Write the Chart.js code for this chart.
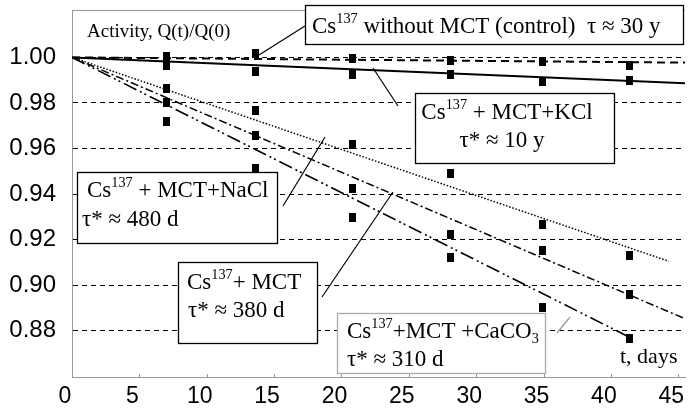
<!DOCTYPE html>
<html>
<head>
<meta charset="utf-8">
<script src="https://cdn.jsdelivr.net/npm/chart.js@4/dist/chart.umd.min.js"></script>
<style>
  html, body { margin: 0; padding: 0; background: #fff; }
  #wrap { width: 691px; height: 410px; }
</style>
</head>
<body>
<div id="wrap"><canvas id="decayChart" width="691" height="410"></canvas></div>
<script>
const days = [7.0, 13.6, 20.8, 28.1, 34.9, 41.4];

// measured Q(t)/Q(0) per sample
const control = [1.0004, 1.0017, 0.9997, 0.9988, 0.9982, 0.9964];
const kcl = [0.9966, 0.9938, 0.9924, 0.9927, 0.9896, 0.9900];
const nacl = [0.9865, 0.9769, 0.9617, 0.9490, 0.9266, 0.9132];
const mct = [0.9802, 0.9659, 0.9424, 0.9224, 0.9152, 0.8959];
const caco3 = [0.9720, 0.9514, 0.9295, 0.9123, 0.8904, 0.8768];

// fitted lines, start and end points
const controlFitX = [0, 45.5], controlFitY = [1.0, 0.9977];
const kclFitX = [0, 45.5], kclFitY = [1.0, 0.9886];
const naclFitX = [0, 44.3], naclFitY = [1.0, 0.9105];
const mctFitX = [0, 45.5], mctFitY = [1.0, 0.8853];
const caco3FitX = [0, 41.3], caco3FitY = [1.0, 0.8774];

// axis ticks
const xTicks = [0, 5, 10, 15, 20, 25, 30, 35, 40, 45];
const yTicks = [0.88, 0.90, 0.92, 0.94, 0.96, 0.98, 1.00];

const toPts = (xs, ys) => xs.map((x, i) => ({ x, y: ys[i] }));

// tall black marker like the scanned squares
const marker = document.createElement('canvas');
marker.width = 7; marker.height = 9;
const mctx = marker.getContext('2d');
mctx.fillStyle = '#000';
mctx.fillRect(0, 0, 7, 9);

const fitLine = (xs, ys, width, dash) => ({
  data: toPts(xs, ys),
  showLine: true,
  borderColor: '#000',
  borderWidth: width,
  borderDash: dash,
  pointRadius: 0,
  order: 2,
});

const samples = (ys) => ({
  data: toPts(days, ys),
  showLine: false,
  pointStyle: marker,
  pointRadius: 5,
  order: 1,
});

const SERIF = '"Liberation Serif", "Times New Roman", serif';

// draws "Cs^{137}" / "CaCO_{3}" style text
function richText(ctx, str, x, y, size, align) {
  const parts = [];
  const re = /(\^\{[^}]*\}|_\{[^}]*\})/g;
  let last = 0, m;
  while ((m = re.exec(str))) {
    if (m.index > last) parts.push({ t: str.slice(last, m.index) });
    const body = m[0].slice(2, -1);
    parts.push(m[0][0] === '^' ? { t: body, sup: true } : { t: body, sub: true });
    last = re.lastIndex;
  }
  if (last < str.length) parts.push({ t: str.slice(last) });
  let total = 0;
  for (const p of parts) {
    p.fs = (p.sup || p.sub) ? size * 0.62 : size;
    ctx.font = p.fs + 'px ' + SERIF;
    p.w = ctx.measureText(p.t).width;
    total += p.w;
  }
  let cx = align === 'center' ? x - total / 2 : x;
  ctx.textAlign = 'left';
  ctx.textBaseline = 'alphabetic';
  for (const p of parts) {
    ctx.font = p.fs + 'px ' + SERIF;
    const dy = p.sup ? -size * 0.42 : p.sub ? size * 0.22 : 0;
    ctx.fillText(p.t, cx, y + dy);
    cx += p.w;
  }
}

const notes = [
  { box: [305, 5, 378, 39], stroke: '#000',
    lines: [['Cs^{137} without MCT (control)  τ ≈ 30 y', 312, 33]],
    pointer: [[305, 26], [259, 55]] },
  { box: [415, 93, 199, 70], stroke: '#000',
    lines: [['Cs^{137} + MCT+KCl', 507, 119, 'center'], ['τ* ≈ 10 y', 502, 147, 'center']],
    pointer: [[373, 68], [398, 106]] },
  { box: [77, 172, 200, 71], stroke: '#000',
    lines: [['Cs^{137} + MCT+NaCl', 87, 197], ['τ* ≈ 480 d', 82, 226]],
    pointer: [[283, 206], [325, 137]] },
  { box: [178, 262, 139, 81], stroke: '#000',
    lines: [['Cs^{137}+ MCT', 187, 289], ['τ* ≈ 380 d', 188, 317]],
    pointer: [[322, 297], [393, 192]] },
  { box: [337, 313, 208, 60], stroke: '#aaa',
    lines: [['Cs^{137}+MCT +CaCO_{3}', 347, 338], ['τ* ≈ 310 d', 347, 366]],
    pointer: [[557, 333], [570, 317]], pointerColor: '#999' },
];

const decor = {
  id: 'decor',
  beforeDatasetsDraw(chart) {
    const { ctx, chartArea: a, scales: { x } } = chart;
    ctx.save();
    ctx.strokeStyle = '#999';
    ctx.lineWidth = 1;
    ctx.beginPath();
    ctx.moveTo(a.left, a.top + 0.5);
    ctx.lineTo(a.right, a.top + 0.5);
    for (const t of xTicks) {
      const px = Math.round(x.getPixelForValue(t)) + 0.5;
      ctx.moveTo(px, a.bottom);
      ctx.lineTo(px, a.bottom - 3);
    }
    ctx.stroke();
    ctx.restore();
  },
  afterDatasetsDraw(chart) {
    const { ctx } = chart;
    ctx.save();
    for (const n of notes) {
      ctx.strokeStyle = n.pointerColor || '#000';
      ctx.lineWidth = 1.2;
      ctx.beginPath();
      ctx.moveTo(n.pointer[0][0], n.pointer[0][1]);
      ctx.lineTo(n.pointer[1][0], n.pointer[1][1]);
      ctx.stroke();
      const [bx, by, bw, bh] = n.box;
      ctx.fillStyle = '#fff';
      ctx.fillRect(bx, by, bw, bh);
      ctx.strokeStyle = n.stroke;
      ctx.lineWidth = 1.3;
      ctx.strokeRect(bx + 0.5, by + 0.5, bw, bh);
      ctx.fillStyle = '#000';
      for (const [t, tx, ty, al] of n.lines) richText(ctx, t, tx, ty, 23, al);
    }
    ctx.fillStyle = '#000';
    richText(ctx, 'Activity, Q(t)/Q(0)', 87, 37, 19);
    richText(ctx, 't, days', 620, 363, 22);
    ctx.restore();
  },
};

const xFont = { family: '"Liberation Sans", Arial, sans-serif', size: 23 };
const yFont = { family: '"Liberation Sans", Arial, sans-serif', size: 24 };

new Chart(document.getElementById('decayChart'), {
  type: 'scatter',
  data: {
    datasets: [
      fitLine(controlFitX, controlFitY, 2, [8, 5]),
      fitLine(kclFitX, kclFitY, 2, []),
      fitLine(naclFitX, naclFitY, 1.5, [1.5, 1.8]),
      fitLine(mctFitX, mctFitY, 1.5, [8, 3, 2, 3]),
      fitLine(caco3FitX, caco3FitY, 1.6, [14, 4, 2, 3, 2, 4]),
      samples(control),
      samples(kcl),
      samples(nacl),
      samples(mct),
      samples(caco3),
    ],
  },
  options: {
    responsive: false,
    animation: false,
    layout: { padding: { top: 10, right: 0, left: 0, bottom: 0 } },
    plugins: { legend: { display: false }, tooltip: { enabled: false } },
    scales: {
      x: {
        type: 'linear',
        min: 0,
        max: 45.5,
        afterBuildTicks: (s) => { s.ticks = xTicks.map((v) => ({ value: v })); },
        afterFit: (s) => { s.height = 33; s.paddingLeft = 0; s.paddingRight = 0; },
        grid: { display: false, drawTicks: false },
        border: { color: '#999', width: 1 },
        ticks: { font: xFont, color: '#000', padding: 6, labelOffset: -7, maxRotation: 0, autoSkip: false },
      },
      y: {
        min: 0.8597,
        max: 1.0208,
        afterBuildTicks: (s) => { s.ticks = yTicks.map((v) => ({ value: v })); },
        afterFit: (s) => { s.width = 72; s.paddingTop = 0; s.paddingBottom = 0; },
        grid: { color: '#000', lineWidth: 1, drawTicks: false },
        border: { color: '#999', width: 1, dash: [5, 4] },
        ticks: { font: yFont, color: '#000', padding: 16, callback: (v) => v.toFixed(2) },
      },
    },
  },
  plugins: [decor],
});
</script>
</body>
</html>
